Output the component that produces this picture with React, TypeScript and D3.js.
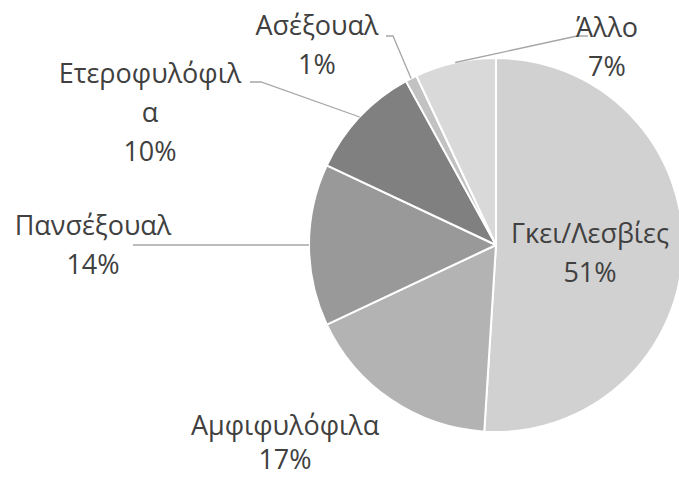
import React, { useRef, useEffect } from 'react'
import * as d3 from 'd3'

// slices, clockwise from 12 o'clock
const categories = ['Γκει/Λεσβίες', 'Αμφιφυλόφιλα', 'Πανσέξουαλ', 'Ετεροφυλόφιλα', 'Ασέξουαλ', 'Άλλο']
const values = [51, 17, 14, 10, 1, 7]
const percentLabels = ['51%', '17%', '14%', '10%', '1%', '7%']
const nameLines = [['Γκει/Λεσβίες'], ['Αμφιφυλόφιλα'], ['Πανσέξουαλ'], ['Ετεροφυλόφιλ', 'α'], ['Ασέξουαλ'], ['Άλλο']]
const colors = ['#d1d1d1', '#b3b3b3', '#999999', '#808080', '#c2c2c2', '#d9d9d9']

// label placement (x centre, first baseline, optional leader elbow)
const labelLayout = [
  { x: 590, y: 243, elbow: null },
  { x: 285, y: 435, elbow: null },
  { x: 93, y: 235, elbow: [[133, 245]] },
  { x: 150, y: 83, elbow: [[250, 82], [261, 82]] },
  { x: 317, y: 35, elbow: [[386, 36], [393, 36]] },
  { x: 607, y: 37, elbow: [[588, 36], [577, 36]] },
]

const W = 679
const H = 477

export default function App() {
  const ref = useRef<SVGSVGElement>(null)

  useEffect(() => {
    const svg = d3.select(ref.current)
    svg.selectAll('*').remove()

    const cx = 496, cy = 245, r = 187
    const data = categories.map((c, i) => ({ name: c, value: values[i], i }))
    const pie = d3.pie<any>().value(d => d.value).sort(null)
    const arcs = pie(data)
    const arc = d3.arc<any>().innerRadius(0).outerRadius(r)

    const g = svg.append('g').attr('transform', `translate(${cx},${cy})`)
    g.selectAll('path')
      .data(arcs)
      .enter()
      .append('path')
      .attr('d', arc)
      .attr('fill', d => colors[d.data.i])
      .attr('stroke', '#ffffff')
      .attr('stroke-width', 2)
      .attr('stroke-linejoin', 'round')

    // leader lines
    arcs.forEach(a => {
      const lay = labelLayout[a.data.i]
      if (!lay.elbow) return
      const mid = (a.startAngle + a.endAngle) / 2
      const ex = cx + r * Math.sin(mid)
      const ey = cy - r * Math.cos(mid)
      const pts = [[ex, ey], ...lay.elbow.slice().reverse()]
      svg.append('path')
        .attr('d', d3.line()(pts as [number, number][]))
        .attr('fill', 'none')
        .attr('stroke', '#a6a6a6')
        .attr('stroke-width', 1.3)
    })

    // labels
    const lineH = 39
    arcs.forEach(a => {
      const i = a.data.i
      const lay = labelLayout[i]
      const lines = [...nameLines[i], percentLabels[i]]
      const t = svg.append('text')
        .attr('text-anchor', 'middle')
        .attr('font-family', '"Open Sans", sans-serif')
        .attr('font-size', 27)
        .attr('fill', '#404040')
      lines.forEach((l, k) => {
        t.append('tspan').attr('x', lay.x).attr('y', lay.y + k * (i === 1 ? 34 : lineH)).text(l)
      })
    })
  }, [])

  return (
    <div style={{ position: 'absolute', left: 0, top: 0 }}>
      <svg ref={ref} width={W} height={H} style={{ display: 'block', background: '#ffffff' }} />
    </div>
  )
}
